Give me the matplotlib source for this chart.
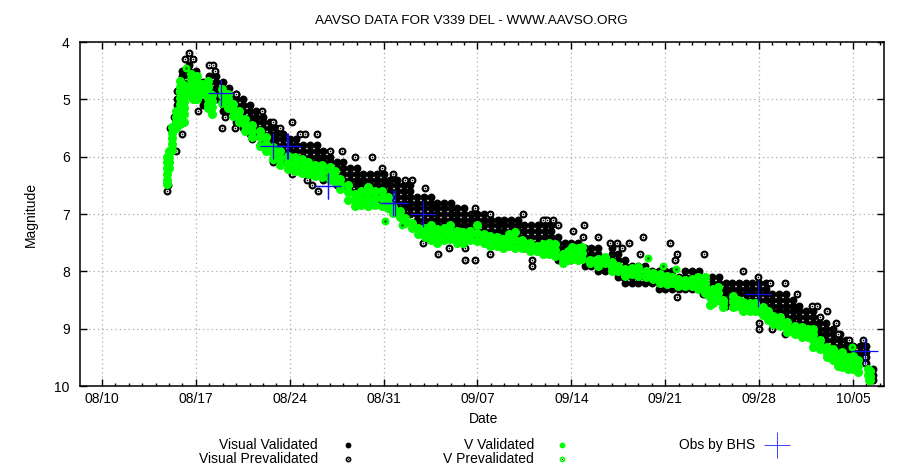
import matplotlib
matplotlib.use("Agg")
import matplotlib.pyplot as plt
from matplotlib.lines import Line2D

plt.rcParams['font.family'] = ['Liberation Sans', 'DejaVu Sans']

# Days are counted from 08/10
tick_days = [0, 7, 14, 21, 28, 35, 42, 49, 56]
tick_labels = ['08/10', '08/17', '08/24', '08/31', '09/07', '09/14', '09/21', '09/28', '10/05']
minor_days = list(range(0, 59))
mag_ticks = [4, 5, 6, 7, 8, 9, 10]

# Visual Validated: one column of magnitudes for each time
visual_days = [5.6, 6.0, 6.5, 7.0, 7.5, 8.0, 8.5, 9.0, 9.5, 10.0, 10.5, 11.0, 11.5, 12.0, 12.5,
               13.0, 13.5, 14.0, 14.5, 15.0, 15.5, 16.0, 16.5, 17.0, 17.5, 18.0, 18.5, 19.0, 19.5,
               20.0, 20.5, 21.0, 21.5, 22.0, 22.5, 23.0, 23.5, 24.0, 24.5, 25.0, 25.5, 26.0, 26.5,
               27.0, 27.5, 28.0, 28.5, 29.0, 29.5, 30.0, 30.5, 31.0, 31.5, 32.0, 32.5, 33.0, 33.5,
               34.0, 34.5, 35.0, 35.5, 36.0, 36.5, 37.0, 37.5, 38.0, 38.5, 39.0, 39.5, 40.0, 40.5,
               41.0, 41.5, 42.0, 42.5, 43.0, 43.5, 44.0, 44.5, 45.0, 45.5, 46.0, 46.5, 47.0, 47.5,
               48.0, 48.5, 49.0, 49.5, 50.0, 50.5, 51.0, 51.5, 52.0, 52.5, 53.0, 53.5, 54.0, 54.5,
               55.0, 55.5, 56.0, 56.5, 57.0, 57.5]
visual_mags = [
    [5.0, 5.1, 5.2, 5.3], [4.5, 4.6, 4.7, 4.8, 4.9, 5.0], [4.4, 4.5, 4.6, 4.7, 4.8, 4.9],
    [4.5, 4.6, 4.7, 4.8, 4.9, 5.0], [4.7, 4.8, 4.9, 5.0, 5.1], [4.6, 4.7, 4.8, 4.9, 5.0, 5.1],
    [4.6, 4.7, 4.8, 4.9, 5.0], [4.7, 4.8, 4.9, 5.0, 5.1, 5.2], [4.8, 4.9, 5.0, 5.1, 5.2],
    [4.9, 5.0, 5.1, 5.2, 5.3, 5.4], [5.0, 5.1, 5.2, 5.3, 5.4, 5.5], [5.1, 5.2, 5.3, 5.4, 5.5, 5.6],
    [5.2, 5.3, 5.4, 5.5, 5.6], [5.3, 5.4, 5.5, 5.6, 5.7], [5.4, 5.5, 5.6, 5.7, 5.8],
    [5.5, 5.6, 5.7, 5.8, 5.9, 6.0], [5.6, 5.7, 5.8, 5.9, 6.0, 6.1], [5.7, 5.8, 5.9, 6.0, 6.1, 6.2],
    [5.7, 5.8, 5.9, 6.0, 6.1, 6.2], [5.8, 5.9, 6.0, 6.1, 6.2], [5.8, 5.9, 6.0, 6.1, 6.2, 6.3],
    [5.8, 5.9, 6.0, 6.1, 6.2, 6.3], [5.9, 6.0, 6.1, 6.2, 6.3, 6.4], [6.0, 6.1, 6.2, 6.3, 6.4],
    [6.1, 6.2, 6.3, 6.4, 6.5], [6.1, 6.2, 6.3, 6.4, 6.5], [6.2, 6.3, 6.4, 6.5, 6.6],
    [6.2, 6.3, 6.4, 6.5, 6.6, 6.7], [6.3, 6.4, 6.5, 6.6, 6.7, 6.8], [6.3, 6.4, 6.5, 6.6, 6.7, 6.8],
    [6.3, 6.4, 6.5, 6.6, 6.7, 6.8], [6.3, 6.4, 6.5, 6.6, 6.7, 6.8], [6.4, 6.5, 6.6, 6.7, 6.8, 6.9],
    [6.4, 6.5, 6.6, 6.7, 6.8, 6.9], [6.5, 6.6, 6.7, 6.8, 6.9, 7.0], [6.5, 6.6, 6.7, 6.8, 6.9, 7.0],
    [6.7, 6.8, 6.9, 7.0, 7.1, 7.2], [6.7, 6.8, 6.9, 7.0, 7.1, 7.2], [6.7, 6.8, 6.9, 7.0, 7.1, 7.2],
    [6.8, 6.9, 7.0, 7.1, 7.2, 7.3], [6.8, 6.9, 7.0, 7.1, 7.2, 7.3], [6.8, 6.9, 7.0, 7.1, 7.2, 7.3],
    [6.9, 7.0, 7.1, 7.2, 7.3], [6.9, 7.0, 7.1, 7.2, 7.3], [7.0, 7.1, 7.2, 7.3, 7.4],
    [7.0, 7.1, 7.2, 7.3, 7.4], [7.0, 7.1, 7.2, 7.3, 7.4], [7.1, 7.2, 7.3, 7.4, 7.5],
    [7.1, 7.2, 7.3, 7.4, 7.5], [7.1, 7.2, 7.3, 7.4, 7.5], [7.1, 7.2, 7.3, 7.4, 7.5],
    [7.1, 7.2, 7.3, 7.4, 7.5], [7.2, 7.3, 7.4, 7.5, 7.6], [7.2, 7.3, 7.4, 7.5, 7.6],
    [7.2, 7.3, 7.4, 7.5, 7.6], [7.1, 7.2, 7.3, 7.4, 7.5, 7.6], [7.2, 7.3, 7.4, 7.5, 7.6],
    [7.4, 7.5, 7.6, 7.7, 7.8], [7.5, 7.6, 7.7, 7.8], [7.5, 7.6, 7.7, 7.8], [7.5, 7.6, 7.7, 7.8],
    [7.6, 7.7, 7.8, 7.9], [7.6, 7.7, 7.8, 7.9], [7.6, 7.7, 7.8, 7.9, 8.0], [7.8, 7.9, 8.0],
    [7.6, 7.7, 7.8, 7.9, 8.0], [7.7, 7.8, 7.9, 8.0, 8.1], [7.8, 7.9, 8.0, 8.1, 8.2],
    [7.9, 8.0, 8.1, 8.2], [7.9, 8.0, 8.1, 8.2], [7.9, 8.0, 8.1, 8.2], [8.0, 8.1, 8.2],
    [8.0, 8.1, 8.2, 8.3], [8.0, 8.1, 8.2, 8.3], [8.0, 8.1, 8.2, 8.3], [8.1, 8.2, 8.3],
    [8.0, 8.1, 8.2, 8.3], [8.0, 8.1, 8.2, 8.3], [8.0, 8.1, 8.2, 8.3], [8.1, 8.2, 8.3, 8.4],
    [8.1, 8.2, 8.3, 8.4, 8.5], [8.1, 8.2, 8.3, 8.4, 8.5], [8.2, 8.3, 8.4, 8.5, 8.6],
    [8.2, 8.3, 8.4, 8.5, 8.6], [8.2, 8.3, 8.4, 8.5, 8.6], [8.2, 8.3, 8.4, 8.5, 8.6],
    [8.2, 8.3, 8.4, 8.5, 8.6], [8.2, 8.3, 8.4, 8.5, 8.6, 8.7], [8.2, 8.3, 8.4, 8.5, 8.6, 8.7],
    [8.4, 8.5, 8.6, 8.7, 8.8], [8.4, 8.5, 8.6, 8.7, 8.8], [8.4, 8.5, 8.6, 8.7, 8.8, 8.9],
    [8.5, 8.6, 8.7, 8.8, 8.9, 9.0], [8.6, 8.7, 8.8, 8.9, 9.0], [8.7, 8.8, 8.9, 9.0, 9.1],
    [8.7, 8.8, 8.9, 9.0, 9.1], [8.9, 9.0, 9.1, 9.2], [8.9, 9.0, 9.1, 9.2, 9.3],
    [9.0, 9.1, 9.2, 9.3], [9.1, 9.2, 9.3, 9.4], [9.2, 9.3, 9.4, 9.5], [9.3, 9.4, 9.5, 9.6],
    [9.3, 9.4, 9.5], [9.3, 9.4, 9.5, 9.6], [9.7, 9.8, 9.9],
]

# Visual Prevalidated: the single points round the edge of the cloud
prevalid_days = [4.85, 4.9, 5.07, 5.37, 5.6, 5.52, 5.97, 6.2, 6.49, 6.79, 7.16, 7.98, 8.28, 8.43, 8.95, 9.17,
                 9.92, 9.99, 11.19, 11.93, 12.75, 14.17, 13.27, 14.77, 15.14, 16.03, 12.75, 14.17, 15.29,
                 15.66, 16.1, 18.34, 17.0, 17.9, 18.87, 20.13, 11.78, 23.94, 25.06, 25.88, 27.07, 27.07,
                 27.8, 28.93, 32.06, 32.06, 20.9, 21.7, 23.1, 22.6, 24.09, 27.8, 28.9, 31.4, 32.9,
                 33.2, 33.6, 34.0, 35.94, 35.1, 35.87, 37.0, 37.9, 38.4, 39.3, 38.8, 40.34, 40.1, 42.36,
                 42.88, 44.9, 42.7, 42.9, 44.8, 38.85, 47.8, 48.92, 49.8, 50.9, 51.83, 52.95, 53.3, 54.1,
                 53.54, 54.7, 54.9, 55.7, 56.75, 49.0, 49.0, 50.0, 50.9, 56.9, 56.9]
prevalid_mags = [6.6, 6.5, 5.5, 5.3, 4.85, 5.9, 5.6, 4.3, 4.2, 4.3, 5.2, 4.4, 4.4, 4.5, 5.5, 5.3,
                 5.5, 4.9, 5.7, 5.2, 5.4, 5.4, 5.5, 5.6, 5.6, 5.6, 6.1, 6.3, 6.4,
                 6.5, 6.6, 6.55, 5.9, 5.9, 6.0, 6.0, 5.8, 7.5, 7.7, 7.6, 7.6, 7.8,
                 7.8, 7.7, 7.8, 7.9, 6.2, 6.3, 6.4, 6.4, 6.55, 6.9, 7.0, 7.0, 7.1,
                 7.1, 7.1, 7.2, 7.2, 7.3, 7.4, 7.4, 7.5, 7.5, 7.5, 7.6, 7.4, 7.7, 7.5,
                 7.7, 7.7, 7.8, 8.45, 8.4, 8.1, 8.0, 8.1, 8.2, 8.2, 8.4, 8.6, 8.6, 8.7,
                 8.8, 8.9, 9.1, 9.2, 9.2, 8.9, 9.0, 9.0, 9.1, 9.5, 9.6]

# V Validated: one column of magnitudes for each time
v_days = [4.85, 5.0, 5.22, 5.5, 5.82, 6.1, 6.6, 6.8, 7.05, 7.46, 7.9, 8.2, 8.95, 9.4, 9.77, 10.2, 10.66, 11.2,
          11.78, 12.2, 12.75, 13.27, 13.87, 14.4, 14.9, 15.36, 15.88, 16.4, 17.0, 17.4, 17.75, 18.34, 18.87,
          19.3, 19.84, 20.36, 20.88, 21.3, 21.7, 22.2, 22.6, 23.1, 23.56, 24.09, 24.5, 24.98, 25.5, 25.95,
          26.47, 26.92, 27.44, 27.96, 28.5, 28.93, 29.46, 29.9, 30.35, 30.8, 31.32, 31.92, 32.44, 32.89,
          33.33, 33.78, 34.38, 34.75, 35.05, 35.5, 35.8, 36.4, 37.0, 37.5, 38.03, 38.48, 39.0, 39.5, 39.97,
          40.57, 41.09, 41.6, 42.13, 42.5, 42.95, 43.5, 44.0, 44.44, 44.97, 45.34, 45.56, 45.93, 46.3, 47.05,
          47.4, 47.8, 48.3, 48.7, 49.3, 49.66, 50.04, 50.56, 51.08, 51.68, 52.2, 52.65, 53.02, 53.54, 54.06,
          54.5, 54.9, 55.2, 55.6, 56.0, 56.4, 57.1, 57.2, 57.3]
v_mags = [
    [6.0, 6.1, 6.2, 6.3, 6.4, 6.48], [5.9, 6.0, 6.1, 6.2], [5.48, 5.58, 5.68, 5.78, 5.88], [5.2, 5.3, 5.4, 5.5],
    [4.68, 4.78, 4.88, 4.98, 5.08, 5.18, 5.28, 5.43], [4.75, 4.85, 4.95, 5.05, 5.15, 5.25, 5.4],
    [4.55, 4.65, 4.75, 4.85, 4.95], [4.6, 4.7, 4.8, 4.9, 5.0], [4.6, 4.7, 4.8, 4.9, 5.0], [4.73, 4.82, 4.9],
    [4.68, 4.78, 4.88, 4.98, 5.08, 5.15], [4.93, 5.03, 5.13, 5.25], [4.82, 4.92, 5.06], [4.9, 5.0, 5.15],
    [5.08, 5.18, 5.29], [5.2, 5.3, 5.4], [5.34, 5.44, 5.55], [5.45, 5.55, 5.65], [5.55, 5.65, 5.81],
    [5.65, 5.78, 5.9], [5.83, 5.93, 6.04], [5.9, 6.02, 6.15], [5.99, 6.1, 6.22], [6.0, 6.12, 6.25],
    [6.04, 6.16, 6.28], [6.1, 6.2, 6.3], [6.15, 6.25, 6.34], [6.15, 6.25, 6.35], [6.18, 6.28, 6.39],
    [6.25, 6.35, 6.45], [6.39, 6.47, 6.56], [6.5, 6.62, 6.75], [6.65, 6.75, 6.86], [6.6, 6.72, 6.85],
    [6.53, 6.63, 6.75, 6.86], [6.6, 6.72, 6.85], [6.6, 6.72, 6.86], [6.7, 6.8, 6.9], [6.88, 6.98],
    [6.95, 7.05], [7.07, 7.15], [7.15, 7.25], [7.24, 7.35], [7.25, 7.32, 7.4], [7.2, 7.32, 7.45],
    [7.26, 7.38, 7.5], [7.25, 7.35, 7.45], [7.2, 7.32, 7.44], [7.3, 7.4, 7.5], [7.31, 7.4, 7.5], [7.3, 7.38, 7.45],
    [7.2, 7.33, 7.47], [7.35, 7.42, 7.5], [7.38, 7.47, 7.56], [7.4, 7.47, 7.55], [7.44, 7.52, 7.6],
    [7.35, 7.45, 7.55], [7.31, 7.45, 7.6], [7.45, 7.52, 7.6], [7.5, 7.58, 7.65], [7.55, 7.65],
    [7.52, 7.6, 7.7], [7.5, 7.6, 7.7], [7.52, 7.62, 7.73], [7.7, 7.78, 7.85], [7.65, 7.72, 7.8],
    [7.58, 7.68, 7.79], [7.6, 7.7, 7.8], [7.58, 7.68, 7.79], [7.8, 7.85], [7.78, 7.85, 7.91], [7.75, 7.85],
    [7.84, 7.92, 8.0], [7.9, 8.0], [7.96, 8.02, 8.08], [7.95, 8.05], [7.92, 8.0, 8.08], [8.0, 8.1],
    [8.03, 8.13], [8.05, 8.12, 8.2], [8.08, 8.15, 8.22], [8.1, 8.2], [8.13, 8.19, 8.25], [8.15, 8.25],
    [8.13, 8.19, 8.25], [8.1, 8.2, 8.3], [8.1, 8.2, 8.3, 8.38], [8.34, 8.44, 8.59], [8.3, 8.42, 8.55],
    [8.27, 8.38, 8.5], [8.5, 8.56, 8.62], [8.43, 8.52, 8.62], [8.5, 8.6], [8.54, 8.62, 8.7], [8.55, 8.62, 8.7],
    [8.55, 8.62, 8.7], [8.62, 8.7, 8.76], [8.7, 8.78, 8.85], [8.78, 8.85, 8.92], [8.8, 8.88, 8.95],
    [8.88, 8.97, 9.06], [8.95, 9.02, 9.1], [8.97, 9.06, 9.15], [9.0, 9.08, 9.15], [9.0, 9.1, 9.2, 9.32],
    [9.2, 9.28, 9.35], [9.32, 9.42, 9.5], [9.35, 9.45, 9.55], [9.45, 9.55, 9.65], [9.41, 9.54, 9.67],
    [9.5, 9.6, 9.7], [9.48, 9.6, 9.7], [9.55, 9.65, 9.75], [9.7, 9.8], [9.74, 9.82, 9.9], [9.74, 9.82, 9.9],
]

# V Prevalidated
v_pre_days = [6.26, 21.1, 22.37, 40.72, 41.83, 42.8, 55.93]
v_pre_mags = [4.45, 7.12, 7.2, 7.77, 7.9, 7.96, 9.32]

# Obs by BHS
bhs_days = [8.87, 12.75, 13.8, 13.87, 16.85, 16.85, 21.7, 21.85, 23.94, 48.92, 56.9]
bhs_mags = [4.89, 5.81, 5.81, 5.81, 6.51, 6.51, 6.81, 6.81, 7.0, 8.4, 9.39]

green = '#00ff00'
blue = '#1010f0'

fig = plt.figure(figsize=(9, 4.73), dpi=100)
ax = fig.add_axes([79.5 / 900, 1 - 386 / 473, (884 - 79.5) / 900, (386 - 42) / 473])
ax.set_axisbelow(True)

# Flatten the columns
vis_x, vis_y = [], []
for day, mags in zip(visual_days, visual_mags):
    vis_x += [day] * len(mags)
    vis_y += mags
v_x, v_y = [], []
for day, mags in zip(v_days, v_mags):
    v_x += [day] * len(mags)
    v_y += mags

ms = 5.7
ax.plot(vis_x, vis_y, 'o', color='black', ms=ms, mew=0, zorder=3)
ax.plot(prevalid_days, prevalid_mags, 'o', color='black', ms=ms, mew=0, zorder=3)
ax.plot(prevalid_days, prevalid_mags, 'o', color='white', ms=2.6, mew=0, zorder=3)
ax.plot(prevalid_days, prevalid_mags, 'o', color='black', ms=1.2, mew=0, zorder=3)
ax.plot(v_x, v_y, 'o', color=green, ms=6.5, mew=0, zorder=4)
ax.plot(v_pre_days, v_pre_mags, 'o', color=green, ms=ms, mew=0, zorder=4)
ax.plot(v_pre_days, v_pre_mags, 'o', color='#006600', ms=1.8, mew=0, zorder=4)
ax.plot(bhs_days, bhs_mags, '+', color=blue, ms=19, mew=0.9, zorder=5)

# Axes
ax.set_xlim((79.5 - 102) / 13.41, (884 - 102) / 13.41)
ax.set_ylim(10, 4)
ax.set_xticks(tick_days)
ax.set_xticklabels(tick_labels)
ax.set_xticks(minor_days, minor=True)
ax.set_yticks(mag_ticks)
ax.tick_params(axis='y', which='major', direction='in', right=True, length=5, width=1.0, labelsize=10, pad=7)
ax.tick_params(axis='x', which='major', direction='in', top=True, length=5, width=1.0, labelsize=10, pad=4)
ax.tick_params(axis='x', which='minor', direction='in', top=True, length=2.5, width=1.0)
ax.grid(True, which='major', color='#aaaaaa', linestyle=(0, (1, 2.5)), linewidth=0.9)
for side in ax.spines.values():
    side.set_linewidth(1.1)

fig.text(471 / 900, 1 - 21 / 473, 'AAVSO DATA FOR V339 DEL - WWW.AAVSO.ORG', ha='center', va='center', fontsize=9.7)
fig.text(484 / 900, 1 - 419 / 473, 'Date', ha='center', va='center', fontsize=10)
fig.text(31 / 900, 1 - 214 / 473, 'Magnitude', ha='center', va='center', rotation=90, fontsize=10)

# Legend, laid out by hand like the gnuplot key
legend_rows = [
    ('Visual Validated', 318, 348, 445, 'black', False),
    ('Visual Prevalidated', 318, 348, 459, 'black', True),
    ('V Validated', 534, 562, 445, green, False),
    ('V Prevalidated', 534, 562, 459, green, True),
]
for label, text_x, mark_x, row_y, colour, speck in legend_rows:
    fig.text(text_x / 900, 1 - row_y / 473, label, ha='right', va='center', fontsize=10)
    fig.add_artist(Line2D([mark_x / 900], [1 - row_y / 473], marker='o', color=colour, ms=4.2, mew=0,
                          transform=fig.transFigure))
    if speck:
        fig.add_artist(Line2D([mark_x / 900], [1 - row_y / 473], marker='o', color='white', ms=1.8, mew=0,
                              transform=fig.transFigure))
        fig.add_artist(Line2D([mark_x / 900], [1 - row_y / 473], marker='o', color='black', ms=0.8, mew=0,
                              transform=fig.transFigure))
fig.text(755 / 900, 1 - 445 / 473, 'Obs by BHS', ha='right', va='center', fontsize=10)
fig.add_artist(Line2D([777 / 900], [1 - 445 / 473], marker='+', color='#4040ff', ms=19, mew=0.7,
                      transform=fig.transFigure))

plt.savefig('out.png', dpi=100)
plt.close(fig)
